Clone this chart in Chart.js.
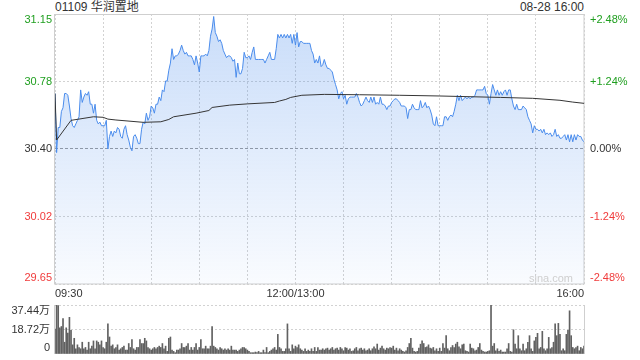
<!DOCTYPE html>
<html>
<head>
<meta charset="utf-8">
<script src="https://cdn.jsdelivr.net/npm/chart.js@4.4.1/dist/chart.umd.min.js"></script>
<style>
  html, body { margin: 0; padding: 0; background: #fff; }
  #wrap { position: relative; width: 640px; height: 360px; overflow: hidden;
          font-family: "Liberation Sans", Arial, "Noto Sans CJK SC", sans-serif; }
  #priceBox { position: absolute; left: 0; top: 0; width: 640px; height: 300px; }
  #volBox { position: absolute; left: 0; top: 296px; width: 640px; height: 64px; }
  .head { position: absolute; top: 0; font-size: 12px; line-height: 15px; color: #333; white-space: nowrap; }
</style>
</head>
<body>
<div id="wrap">
  <div class="head" style="left:55px">01109 华润置地</div>
  <div class="head" style="right:56px">08-28 16:00</div>
  <div id="priceBox"><canvas id="priceChart"></canvas></div>
  <div id="volBox"><canvas id="volChart"></canvas></div>
</div>
<script>
// ---- data ----
const prevClose = 30.40;
const pctTicks = [2.48, 1.24, 0, -1.24, -2.48];
const priceLabels = ["31.15", "30.78", "30.40", "30.02", "29.65"];
const pctLabels = ["+2.48%", "+1.24%", "0.00%", "-1.24%", "-2.48%"];
const gridMinutes = [0, 30, 60, 90, 120, 150, 180, 210, 240, 270, 300, 330];
const timeTickMinutes = [0, 150, 330];
const timeTickLabels = ["09:30", "12:00/13:00", "16:00"];

// last price per minute, 09:30 .. 16:00 (lunch break removed)
const prices = [
  30.71, 30.38, 30.52, 30.52, 30.61, 30.63, 30.71, 30.71, 30.70, 30.64,
  30.57, 30.53, 30.52, 30.54, 30.56, 30.58, 30.73, 30.66, 30.69, 30.71,
  30.70, 30.72, 30.65, 30.65, 30.60, 30.65, 30.56, 30.54, 30.55, 30.53,
  30.53, 30.53, 30.56, 30.40, 30.47, 30.50, 30.47, 30.50, 30.49, 30.52,
  30.51, 30.47, 30.46, 30.51, 30.53, 30.48, 30.45, 30.41, 30.39, 30.47,
  30.48, 30.46, 30.43, 30.43, 30.51, 30.55, 30.54, 30.60, 30.56, 30.58,
  30.64, 30.63, 30.60, 30.65, 30.65, 30.69, 30.67, 30.73, 30.72, 30.78,
  30.78, 30.84, 30.88, 30.96, 30.90, 30.92, 30.92, 30.93, 30.95, 30.98,
  30.95, 30.93, 30.94, 30.92, 30.92, 30.92, 30.90, 30.87, 30.92, 30.88,
  30.83, 30.92, 30.92, 30.92, 30.93, 30.92, 30.95, 31.03, 31.07, 31.14,
  31.05, 31.03, 31.00, 31.01, 30.99, 30.95, 30.93, 30.91, 30.92, 30.92,
  30.91, 30.89, 30.90, 30.80, 30.88, 30.82, 30.82, 30.85, 30.94, 30.91,
  30.91, 30.92, 30.90, 30.94, 30.97, 30.90, 30.90, 30.90, 30.90, 30.90,
  30.90, 30.88, 30.90, 30.92, 30.94, 30.90, 30.90, 30.90, 30.96, 31.04,
  31.02, 31.04, 31.02, 31.04, 31.02, 31.04, 31.02, 31.04, 30.99, 31.04,
  30.98, 31.05, 30.97, 31.00, 31.00, 30.99, 30.99, 30.99, 30.99, 30.99,
  30.95, 30.93, 30.88, 30.90, 30.88, 30.92, 30.86, 30.87, 30.90, 30.87,
  30.85, 30.85, 30.84, 30.83, 30.79, 30.76, 30.73, 30.68, 30.71, 30.72,
  30.68, 30.70, 30.65, 30.68, 30.69, 30.69, 30.69, 30.69, 30.71, 30.69,
  30.66, 30.64, 30.65, 30.67, 30.69, 30.67, 30.66, 30.69, 30.66, 30.69,
  30.65, 30.66, 30.65, 30.69, 30.65, 30.65, 30.64, 30.62, 30.64, 30.64,
  30.66, 30.67, 30.68, 30.68, 30.67, 30.66, 30.64, 30.64, 30.64, 30.63,
  30.57, 30.62, 30.62, 30.65, 30.63, 30.62, 30.62, 30.62, 30.67, 30.63,
  30.64, 30.66, 30.63, 30.64, 30.62, 30.59, 30.54, 30.53, 30.58, 30.53,
  30.53, 30.53, 30.53, 30.58, 30.58, 30.56, 30.58, 30.59, 30.58, 30.61,
  30.65, 30.70, 30.67, 30.70, 30.67, 30.68, 30.69, 30.68, 30.69, 30.68,
  30.69, 30.69, 30.70, 30.73, 30.73, 30.73, 30.73, 30.73, 30.75, 30.71,
  30.70, 30.65, 30.71, 30.76, 30.73, 30.70, 30.73, 30.70, 30.72, 30.70,
  30.72, 30.73, 30.70, 30.73, 30.73, 30.68, 30.64, 30.62, 30.65, 30.62,
  30.62, 30.62, 30.64, 30.63, 30.62, 30.58, 30.56, 30.54, 30.49, 30.53,
  30.51, 30.51, 30.50, 30.51, 30.49, 30.51, 30.48, 30.49, 30.48, 30.49,
  30.47, 30.48, 30.51, 30.47, 30.48, 30.46, 30.46, 30.47, 30.48, 30.45,
  30.48, 30.44, 30.48, 30.44, 30.48, 30.45, 30.48, 30.47, 30.47, 30.45,
  30.44
];

// average price line, sampled where it bends
const avgMinutes = [0, 1, 10, 24, 30, 33, 38, 55, 66, 71, 74, 88, 96, 98, 109, 120, 137, 140, 144, 147, 154, 168, 190, 215, 240, 278, 298, 315, 323, 330];
const avgPrices = [30.71, 30.45, 30.56, 30.58, 30.577, 30.567, 30.562, 30.549, 30.552, 30.565, 30.58, 30.60, 30.615, 30.632, 30.645, 30.652, 30.66, 30.668, 30.677, 30.688, 30.70, 30.705, 30.703, 30.70, 30.696, 30.688, 30.683, 30.672, 30.662, 30.655];

// volume per minute, in 万
const volMax = 37.44;
const volTicks = [0, 18.72, 37.44];
const volLabels = ["0", "18.72万", "37.44万"];
const volumes = [
  19, 37.4, 37, 20, 21, 27, 9, 20, 16, 28,
  18, 7, 12, 4, 7, 5, 4, 9, 4, 5,
  3, 9, 4, 6, 10, 4, 10, 9, 7, 10,
  5, 4, 9, 23, 13, 6, 7, 4, 5, 7,
  3, 4, 5, 6, 3, 3, 8, 5, 11, 4,
  3, 5, 5, 11, 8, 8, 12, 10, 5, 4,
  3, 4, 5, 4, 5, 6, 5, 8, 4, 6,
  2, 12, 13, 3, 2, 1, 3, 3, 4, 8,
  5, 5, 6, 8, 3, 5, 3, 5, 8, 3,
  5, 11, 4, 4, 6, 4, 4, 6, 21, 6,
  5, 4, 3, 5, 4, 3, 4, 3, 4, 3,
  6, 3, 3, 3, 2, 3, 4, 5, 5, 4,
  3, 2, 1, 1, 1, 1.5, 1, 2, 1, 1,
  3, 1, 5, 1, 2, 3, 4, 5, 3, 15,
  5, 4, 2, 2, 4, 23, 4, 2, 7, 4,
  6, 5, 7, 4, 3, 2, 4, 2, 3, 2,
  4, 2, 5, 2, 5, 3, 3, 4, 3, 4,
  4.5, 3, 4, 5, 3, 4, 4.5, 3, 5, 4,
  2.5, 5, 4.5, 3, 4, 2, 2.5, 4, 5, 2.5,
  4, 4.5, 3, 4, 2.5, 3, 4, 2.5, 4, 5.5,
  4, 7.6, 3, 4.5, 6, 4, 3, 4.5, 4, 5,
  4.5, 6, 3, 4.5, 2.5, 4, 3, 2, 1.5, 2.5,
  5, 8, 12, 4.5, 2, 1.5, 2, 4.5, 7.5, 10,
  8, 5, 5.5, 7, 4.5, 4, 5, 2.5, 4, 2,
  4.5, 2, 8, 4.5, 14, 4, 2.5, 5, 6.5, 5,
  7.6, 9, 5.5, 4, 7, 7.6, 2.5, 2, 1.5, 7.6,
  4.5, 4, 2.5, 3, 5, 8, 3, 2, 1.5, 1.5,
  2, 2.5, 37.4, 6, 8, 2.5, 4, 2, 3, 1.5,
  1.5, 1.5, 4, 8, 2, 1.5, 18.5, 7.5, 4, 14,
  4, 2.5, 7.5, 2.5, 4, 9, 14, 4, 2, 10,
  12.7, 15.8, 4, 5, 17.3, 4, 2.5, 4, 12.7, 4,
  5, 9, 23, 14, 23.4, 15, 2.5, 4, 2.5, 15,
  18, 33, 14, 5, 4, 5, 6, 2.5, 5, 4,
  6
];

// ---- styling ----
const fontFamily = '"Liberation Sans", Arial, "Noto Sans CJK SC", sans-serif';
const GREEN = "#1f9f1f";
const RED = "#f03b3b";
const DARK = "#333";
const tickColors = [GREEN, GREEN, DARK, RED, RED];
const lineBlue = "#4a8cec";
const frameColor = "#cfcfcf";
const gridColor = "#d2d2d2";

Chart.defaults.font.family = fontFamily;
Chart.defaults.font.size = 11;
Chart.defaults.color = DARK;

const priceTickValues = pctTicks.map((p) => prevClose * (1 + p / 100));
const clamp = (v, lo, hi) => Math.min(Math.max(v, lo), hi);

const framePlugin = {
  id: "frame",
  beforeDatasetsDraw(chart, args, opts) {
    const { ctx, chartArea: a } = chart;
    ctx.save();
    ctx.strokeStyle = frameColor;
    ctx.lineWidth = 1;
    if (opts.full) {
      ctx.strokeRect(a.left - 0.5, a.top + 0.5, a.right - a.left + 0.5, a.bottom - a.top - 0.5);
    } else {
      ctx.beginPath();
      ctx.moveTo(a.left - 0.5, a.top);
      ctx.lineTo(a.left - 0.5, a.bottom);
      ctx.moveTo(a.right + 0.5, a.top);
      ctx.lineTo(a.right + 0.5, a.bottom);
      ctx.stroke();
    }
    ctx.restore();
  }
};

const priceSideLabels = {
  id: "priceSideLabels",
  afterDraw(chart) {
    const { ctx, chartArea: a, scales } = chart;
    ctx.save();
    ctx.font = "11px " + fontFamily;
    ctx.textBaseline = "middle";
    priceTickValues.forEach((v, i) => {
      const y = clamp(scales.y.getPixelForValue(v), a.top + 6, a.bottom - 6);
      ctx.fillStyle = tickColors[i];
      ctx.textAlign = "right";
      ctx.fillText(priceLabels[i], a.left - 3, y);
      ctx.textAlign = "left";
      ctx.fillText(pctLabels[i], a.right + 6, y);
    });
    ctx.fillStyle = "#cfcfcf";
    ctx.textAlign = "right";
    ctx.font = "11px " + fontFamily;
    ctx.fillText("sina.com", a.right - 11, a.bottom - 5);
    ctx.restore();
  }
};

const volSideLabels = {
  id: "volSideLabels",
  afterDraw(chart) {
    const { ctx, chartArea: a, scales } = chart;
    ctx.save();
    ctx.font = "11px " + fontFamily;
    ctx.textBaseline = "middle";
    ctx.textAlign = "right";
    ctx.fillStyle = DARK;
    volTicks.forEach((v, i) => {
      const y = clamp(scales.y.getPixelForValue(v), a.top + 6, a.bottom - 6);
      ctx.fillText(volLabels[i], a.left - 5, y);
    });
    ctx.restore();
  }
};

new Chart(document.getElementById("priceChart"), {
  type: "line",
  data: {
    datasets: [{
      label: "均价",
      data: avgMinutes.map((m, i) => ({ x: m, y: avgPrices[i] })),
      borderColor: "#353535",
      borderWidth: 1,
      pointRadius: 0,
      fill: false,
      tension: 0
    }, {
      label: "价格",
      data: prices.map((v, i) => ({ x: i, y: v })),
      borderColor: lineBlue,
      borderWidth: 1,
      pointRadius: 0,
      tension: 0,
      fill: "start",
      backgroundColor: (c) => {
        const area = c.chart.chartArea;
        if (!area) return "rgba(74,140,236,0.2)";
        const g = c.chart.ctx.createLinearGradient(0, area.top, 0, area.bottom);
        g.addColorStop(0, "rgba(74,140,236,0.30)");
        g.addColorStop(1, "rgba(74,140,236,0.03)");
        return g;
      }
    }]
  },
  options: {
    responsive: true,
    maintainAspectRatio: false,
    animation: false,
    layout: { padding: { left: 55, right: 56, top: 14, bottom: 0 } },
    plugins: {
      legend: { display: false },
      tooltip: { enabled: false },
      frame: { full: true }
    },
    scales: {
      x: {
        type: "linear",
        min: 0,
        max: 330,
        afterBuildTicks: (s) => { s.ticks = gridMinutes.map((v) => ({ value: v })); },
        afterFit: (s) => { s.height = 16; },
        ticks: {
          autoSkip: false,
          maxRotation: 0,
          align: "inner",
          padding: 3,
          color: DARK,
          callback: (v) => {
            const k = timeTickMinutes.indexOf(v);
            return k >= 0 ? timeTickLabels[k] : "";
          }
        },
        grid: { color: gridColor, drawTicks: false },
        border: { display: false, dash: [2, 2] }
      },
      y: {
        min: priceTickValues[4],
        max: priceTickValues[0],
        afterBuildTicks: (s) => { s.ticks = priceTickValues.slice().reverse().map((v) => ({ value: v })); },
        afterFit: (s) => { s.width = 0; },
        ticks: { display: false },
        grid: {
          drawTicks: false,
          color: (c) => (Math.abs(c.tick.value - prevClose) < 1e-6 ? "#9a9a9a" : gridColor)
        },
        border: {
          display: false,
          dash: (c) => (c.tick && Math.abs(c.tick.value - prevClose) < 1e-6 ? [3, 2] : [2, 2])
        }
      }
    }
  },
  plugins: [framePlugin, priceSideLabels]
});

new Chart(document.getElementById("volChart"), {
  type: "bar",
  data: {
    datasets: [{
      label: "成交量",
      data: volumes.map((v, i) => ({ x: i, y: v })),
      backgroundColor: "#616161",
      barThickness: 1
    }]
  },
  options: {
    responsive: true,
    maintainAspectRatio: false,
    animation: false,
    layout: { padding: { left: 55, right: 56, top: 9, bottom: 6 } },
    plugins: {
      legend: { display: false },
      tooltip: { enabled: false },
      frame: { full: false }
    },
    scales: {
      x: {
        type: "linear",
        min: 0,
        max: 330,
        offset: false,
        display: false,
        grid: { offset: false }
      },
      y: {
        min: 0,
        max: volMax,
        afterBuildTicks: (s) => { s.ticks = volTicks.map((v) => ({ value: v })); },
        afterFit: (s) => { s.width = 0; },
        ticks: { display: false },
        grid: {
          drawTicks: false,
          color: (c) => (c.index === 0 ? "rgba(0,0,0,0)" : gridColor)
        },
        border: { display: false, dash: [2, 2] }
      }
    }
  },
  plugins: [framePlugin, volSideLabels]
});
</script>
</body>
</html>
